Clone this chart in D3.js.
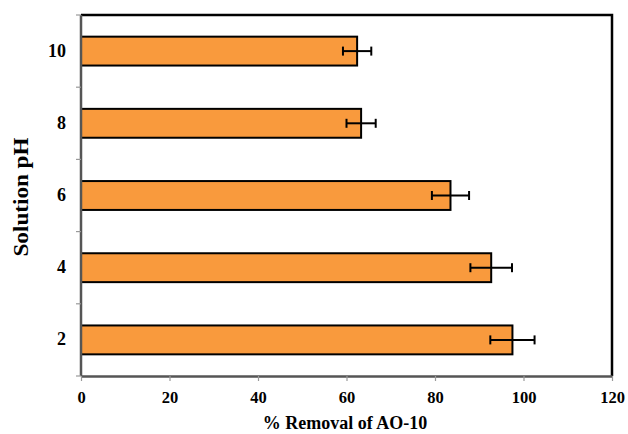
<!DOCTYPE html>
<html>
<head>
<meta charset="utf-8">
<script src="https://cdn.jsdelivr.net/npm/d3@7"></script>
<style>
  html, body { margin: 0; padding: 0; background: #fff; }
  svg { display: block; }
  text { font-family: "Liberation Serif", "Times New Roman", serif; font-weight: bold; }
</style>
</head>
<body>
<svg id="chart" width="628" height="434"></svg>
<script>
// Removal of AO-10 at each solution pH
const phLevels = ["2", "4", "6", "8", "10"];
const removal = [97.5, 92.7, 83.5, 63.3, 62.4];
const removalErr = [5.0, 4.7, 4.2, 3.3, 3.2];
const xTicks = [0, 20, 40, 60, 80, 100, 120];

const svg = d3.select("#chart");
const m = { left: 81, right: 16, top: 15, bottom: 58 };
const W = 628, H = 434;
const x = d3.scaleLinear().domain([0, 120]).range([m.left, W - m.right]);
const y = d3.scaleBand().domain(phLevels.slice().reverse()).range([m.top, H - m.bottom]).paddingInner(0.6).paddingOuter(0.3);

const data = phLevels.map((p, i) => ({ p, v: removal[i], e: removalErr[i] }));

// frame: top and right edges
svg.append("path")
  .attr("d", `M${x(0)},${m.top}H${x(120)}V${H - m.bottom}`)
  .attr("fill", "none").attr("stroke", "#000").attr("stroke-width", 2.5);

// bars
svg.append("g").selectAll("rect").data(data).join("rect")
  .attr("x", x(0))
  .attr("y", d => y(d.p))
  .attr("width", d => x(d.v) - x(0))
  .attr("height", y.bandwidth())
  .attr("fill", "#F99A3D")
  .attr("stroke", "#000")
  .attr("stroke-width", 2);

// error bars
const eb = svg.append("g").attr("stroke", "#000").attr("stroke-width", 2);
data.forEach(d => {
  const cy = y(d.p) + y.bandwidth() / 2;
  eb.append("line").attr("x1", x(d.v - d.e)).attr("x2", x(d.v + d.e)).attr("y1", cy).attr("y2", cy);
  [d.v - d.e, d.v + d.e].forEach(v => {
    eb.append("line").attr("x1", x(v)).attr("x2", x(v)).attr("y1", cy - 4.5).attr("y2", cy + 4.5);
  });
});

// x axis
const xAxis = svg.append("g")
  .attr("transform", `translate(0,${H - m.bottom})`)
  .call(d3.axisBottom(x).tickValues(xTicks).tickSize(5).tickSizeOuter(0));
xAxis.select(".domain").attr("stroke", "#555").attr("stroke-width", 2.5);
xAxis.selectAll(".tick line").attr("stroke", "#999").attr("stroke-width", 1.2);
xAxis.selectAll(".tick text")
  .attr("y", 27).attr("dy", 0)
  .attr("fill", "#000")
  .style("font-size", "16.5px")
  .style("font-family", "Liberation Serif").style("font-weight", "bold");

// y axis: ticks at band boundaries, labels at band centres
const yAxisG = svg.append("g");
yAxisG.append("line")
  .attr("x1", x(0)).attr("x2", x(0)).attr("y1", m.top).attr("y2", H - m.bottom)
  .attr("stroke", "#555").attr("stroke-width", 2.5);
const bounds = d3.range(phLevels.length + 1).map(i => m.top + i * (H - m.bottom - m.top) / phLevels.length);
yAxisG.selectAll(".bt").data(bounds).join("line")
  .attr("x1", x(0) - 5).attr("x2", x(0)).attr("y1", d => d).attr("y2", d => d)
  .attr("stroke", "#999").attr("stroke-width", 1.2);
yAxisG.selectAll(".lbl").data(phLevels).join("text")
  .attr("x", 66)
  .attr("y", d => y(d) + y.bandwidth() / 2)
  .attr("dy", "0.3em")
  .attr("text-anchor", "end")
  .attr("font-size", 18)
  .text(d => d);

// axis titles
svg.append("text")
  .attr("x", 345)
  .attr("y", 429)
  .attr("text-anchor", "middle")
  .attr("font-size", 18)
  .text("% Removal of AO-10");
svg.append("text")
  .attr("transform", `translate(28,197) rotate(-90)`)
  .attr("text-anchor", "middle")
  .attr("font-size", 20)
  .attr("textLength", 119)
  .attr("lengthAdjust", "spacingAndGlyphs")
  .text("Solution pH");
</script>
</body>
</html>
